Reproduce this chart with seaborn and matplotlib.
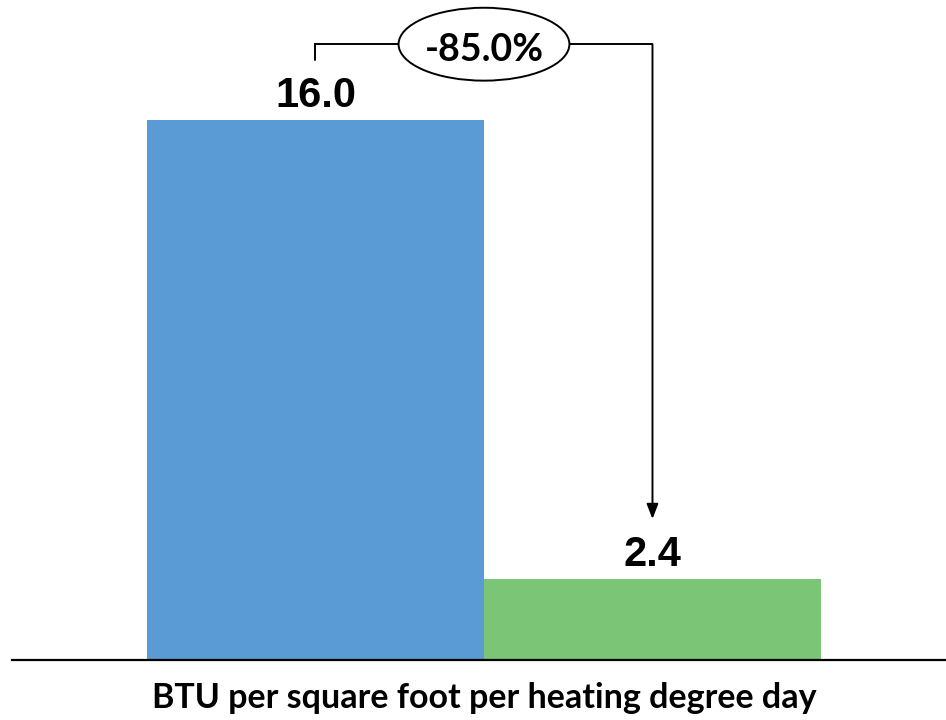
import matplotlib
matplotlib.use("Agg")
import matplotlib.pyplot as plt
from matplotlib.patches import Ellipse
import seaborn as sns
import pandas as pd

# data
periods = ["Before", "After"]
values = [16.0, 2.4]
bar_colors = ["#5B9BD5", "#7BC576"]
xlabel = "BTU per square foot per heating degree day"

pct = (values[1] - values[0]) / values[0] * 100
df = pd.DataFrame({"period": periods, "value": values})

sns.set_style("white")
plt.rcParams["text.color"] = "black"
fig = plt.figure(figsize=(9.46, 7.2), dpi=100)
ax = fig.add_axes([12 / 946, 60 / 720, 934 / 946, 660 / 720])

sns.barplot(data=df, x="period", y="value", hue="period", palette=bar_colors,
            width=1, legend=False, ax=ax, saturation=1, linewidth=0,
            edgecolor="none")

ax.set_xlim(-0.9006, 1.871)
ax.set_ylim(0, 19.56)
for s in ["top", "right", "left"]:
    ax.spines[s].set_visible(False)
ax.spines["bottom"].set_linewidth(1.6)
ax.spines["bottom"].set_color("black")
ax.set_xticks([])
ax.set_yticks([])
ax.set_xlabel("")
ax.set_ylabel("")

# value labels
for i, v in enumerate(values):
    ax.text(i, v + 0.38, f"{v:.1f}", ha="center", va="baseline",
            fontsize=30, fontweight="bold", family="Liberation Sans")

# bracket with arrow
top = values[0] + 2.25
ax.plot([0, 0, 1], [values[0] + 1.78, top, top], color="black", lw=1.4,
        solid_joinstyle="miter")
ax.annotate("", xy=(1, values[1] + 1.78), xytext=(1, top),
            arrowprops=dict(arrowstyle="-|>,head_length=0.9,head_width=0.35",
                            color="black", lw=1.4, shrinkA=0, shrinkB=0))

ell = Ellipse((0.5, top), 0.507, 2.16, facecolor="white", edgecolor="black",
              lw=1.4, zorder=5)
ax.add_patch(ell)
ax.text(0.5, values[0] + 1.75, f"{pct:.1f}%", ha="center", va="baseline",
        fontsize=27, fontweight="bold", family="Lato", zorder=6)

# axis title
ax.text(0.5, -1.43, xlabel, ha="center", va="baseline", fontsize=24.5,
        fontweight="bold", family="Lato")

fig.savefig("out.png", dpi=100)
